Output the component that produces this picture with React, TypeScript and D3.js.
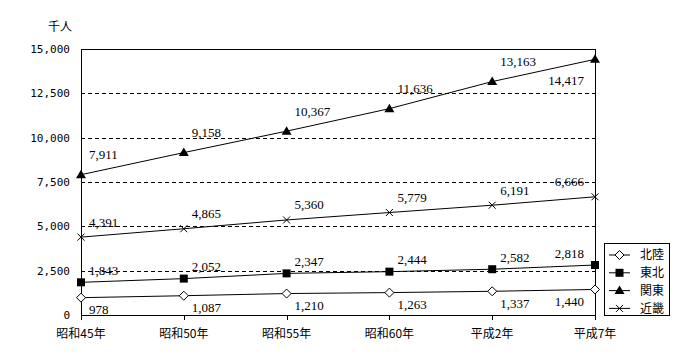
import React from "react";
import * as d3 from "d3";

const categories = ["昭和45年", "昭和50年", "昭和55年", "昭和60年", "平成2年", "平成7年"];
const hokuriku = [978, 1087, 1210, 1263, 1337, 1440];
const tohoku = [1843, 2052, 2347, 2444, 2582, 2818];
const kanto = [7911, 9158, 10367, 11636, 13163, 14417];
const kinki = [4391, 4865, 5360, 5779, 6191, 6666];
const seriesNames = ["北陸", "東北", "関東", "近畿"];
const yTicks = [0, 2500, 5000, 7500, 10000, 12500, 15000];
const unitLabel = "千人";

type Marker = "diamond" | "square" | "triangle" | "cross";

const series: { name: string; values: number[]; marker: Marker; dy: number }[] = [
  { name: seriesNames[0], values: hokuriku, marker: "diamond", dy: 12 },
  { name: seriesNames[1], values: tohoku, marker: "square", dy: -12 },
  { name: seriesNames[2], values: kanto, marker: "triangle", dy: -20 },
  { name: seriesNames[3], values: kinki, marker: "cross", dy: -15 },
];

const W = 700, H = 360;
const left = 81, right = 595, top = 49, bottom = 315;

const x = d3.scalePoint<string>().domain(categories).range([left, right]);
const y = d3.scaleLinear().domain([0, 15000]).range([bottom, top]);
const fmt = d3.format(",");

function MarkerShape({ type, cx, cy }: { type: Marker; cx: number; cy: number }) {
  if (type === "diamond") {
    const s = 4.5;
    return <path d={`M${cx},${cy - s}L${cx + s},${cy}L${cx},${cy + s}L${cx - s},${cy}Z`} fill="#fff" stroke="#000" strokeWidth={1} />;
  }
  if (type === "square") {
    return <rect x={cx - 4} y={cy - 4} width={8} height={8} fill="#000" />;
  }
  if (type === "triangle") {
    return <path d={`M${cx},${cy - 5}L${cx + 5},${cy + 3.5}L${cx - 5},${cy + 3.5}Z`} fill="#000" />;
  }
  const s = 3.5;
  return <path d={`M${cx - s},${cy - s}L${cx + s},${cy + s}M${cx - s},${cy + s}L${cx + s},${cy - s}`} stroke="#000" strokeWidth={1} />;
}

export default function App() {
  const line = d3
    .line<number>()
    .x((_, i) => x(categories[i]) as number)
    .y((d) => y(d));

  const numFont = "'Liberation Serif', serif";
  const tickFont = "'DejaVu Sans Mono', monospace";
  const cjkFont = "'Noto Sans CJK JP', sans-serif";

  return (
    <svg width={W} height={H} style={{ position: "absolute", left: 0, top: 0, background: "#fff" }}>
      <rect x={0} y={0} width={W} height={H} fill="#fff" />
      {yTicks
        .filter((t) => t > 0 && t < 15000)
        .map((t) => (
          <line key={t} x1={left} x2={right} y1={Math.round(y(t)) + 0.5} y2={Math.round(y(t)) + 0.5} stroke="#000" strokeDasharray="4,3" />
        ))}
      <rect x={left + 0.5} y={top + 0.5} width={right - left} height={bottom - top} fill="none" stroke="#000" strokeWidth={1} />
      {yTicks.map((t) => (
        <text key={t} x={70} y={y(t)} dy="0.35em" textAnchor="end" fontFamily={tickFont} fontSize={11} fill="#000">
          {fmt(t)}
        </text>
      ))}
      <text x={60} y={27} dy="0.35em" textAnchor="middle" fontFamily={cjkFont} fontSize={12} fill="#000">
        {unitLabel}
      </text>
      {categories.map((c) => (
        <g key={c}>
          <line x1={Math.round(x(c) as number) + 0.5} x2={Math.round(x(c) as number) + 0.5} y1={bottom} y2={bottom + 5} stroke="#000" />
          <text x={x(c)} y={334} dy="0.35em" textAnchor="middle" fontFamily={cjkFont} fontSize={12} fill="#000">
            {c}
          </text>
        </g>
      ))}
      {series.map((s) => (
        <g key={s.name}>
          <path d={line(s.values) || ""} fill="none" stroke="#000" strokeWidth={1} />
          {s.values.map((v, i) => (
            <MarkerShape key={i} type={s.marker} cx={x(categories[i]) as number} cy={y(v)} />
          ))}
          {s.values.map((v, i) => {
            const last = i === s.values.length - 1;
            const px = x(categories[i]) as number;
            const py = y(v);
            let ly = py + s.dy;
            if (ly - 8 < top) ly = py + 21;
            return (
              <text
                key={"l" + i}
                x={last ? px - 11 : px + 8}
                y={ly}
                dy="0.35em"
                textAnchor={last ? "end" : "start"}
                fontFamily={numFont}
                fontSize={13}
                fill="#000"
              >
                {fmt(v)}
              </text>
            );
          })}
        </g>
      ))}
      <rect x={604.5} y={243.5} width={65} height={72} fill="#fff" stroke="#000" />
      {series.map((s, i) => {
        const ly = 255 + i * 17.8;
        return (
          <g key={"lg" + s.name}>
            <line x1={609} x2={630} y1={ly} y2={ly} stroke="#000" />
            <MarkerShape type={s.marker} cx={619.5} cy={ly} />
            <text x={640} y={ly} dy="0.35em" fontFamily={cjkFont} fontSize={12} fill="#000">
              {s.name}
            </text>
          </g>
        );
      })}
    </svg>
  );
}
